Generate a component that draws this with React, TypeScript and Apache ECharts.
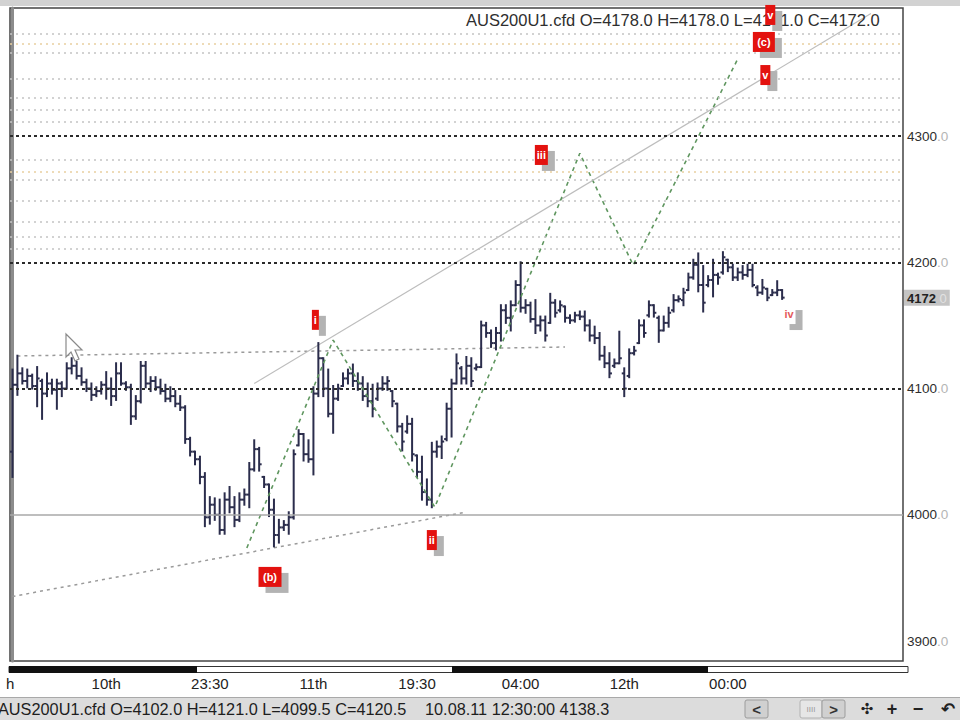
import React, { useEffect, useRef } from 'react';
import * as echarts from 'echarts';

// ---- OHLC bars (30-min) ----
const opens = [
  4050, 4103, 4112, 4106, 4110, 4102, 4106, 4096, 4104, 4099,
  4104, 4100, 4116, 4118, 4110, 4105, 4100, 4095, 4098, 4103,
  4100, 4094, 4112, 4104, 4101, 4078, 4090, 4118, 4104, 4106,
  4101, 4098, 4092, 4094, 4088, 4085, 4060, 4050, 4044, 4030,
  3998, 4008, 4000, 3988, 4012, 4006, 3996, 4012, 4016, 4036,
  4052, 4030, 4024, 4004, 3984, 3990, 3992, 3998, 4055, 4064,
  4048, 4044, 4096, 4124, 4100, 4080, 4092, 4102, 4108, 4112,
  4106, 4104, 4094, 4090, 4092, 4100, 4104, 4098, 4088, 4070,
  4066, 4072, 4047, 4034, 4018, 4012, 4050, 4054, 4060, 4084,
  4104, 4116, 4108, 4118, 4116, 4117, 4150, 4144, 4136, 4144,
  4162, 4156, 4166, 4182, 4164, 4166, 4155, 4150, 4154, 4152,
  4168, 4162, 4165, 4156, 4154, 4158, 4157, 4150, 4142, 4140,
  4126, 4120, 4118, 4120, 4112, 4110, 4128, 4136, 4150, 4158,
  4166, 4156, 4146, 4152, 4162, 4170, 4170, 4178, 4188, 4198,
  4182, 4182, 4186, 4190, 4192, 4202, 4196, 4188, 4192, 4190,
  4194, 4180, 4176, 4179, 4174, 4176, 4178,
];
const highs = [
  4115, 4126, 4116, 4115, 4111, 4117, 4107, 4112, 4107, 4107,
  4105, 4120, 4124, 4121, 4116, 4107, 4104, 4101, 4105, 4113,
  4108, 4120, 4120, 4105, 4103, 4094, 4121, 4121, 4109, 4109,
  4107, 4103, 4101, 4098, 4094, 4086, 4061, 4050, 4046, 4033,
  4014, 4013, 4012, 4017, 4022, 4014, 4017, 4020, 4041, 4059,
  4053, 4030, 4024, 4012, 3996, 3995, 4002, 4051, 4067, 4064,
  4059, 4101, 4136, 4124, 4115, 4102, 4103, 4112, 4115, 4119,
  4112, 4109, 4104, 4103, 4104, 4109, 4109, 4098, 4088, 4072,
  4078, 4076, 4047, 4046, 4028, 4057, 4058, 4062, 4088, 4107,
  4127, 4117, 4125, 4124, 4119, 4153, 4152, 4146, 4148, 4166,
  4166, 4169, 4185, 4200, 4170, 4168, 4170, 4157, 4157, 4175,
  4170, 4169, 4165, 4158, 4160, 4161, 4161, 4154, 4149, 4144,
  4133, 4128, 4123, 4145, 4116, 4131, 4133, 4154, 4154, 4169,
  4166, 4157, 4157, 4164, 4174, 4173, 4179, 4191, 4202, 4207,
  4197, 4189, 4202, 4191, 4208, 4202, 4198, 4195, 4197, 4198,
  4198, 4181, 4186, 4179, 4178, 4185, 4178,
];
const lows = [
  4030, 4095, 4104, 4101, 4100, 4086, 4076, 4094, 4096, 4084,
  4094, 4100, 4112, 4108, 4103, 4098, 4091, 4094, 4096, 4092,
  4087, 4091, 4103, 4099, 4072, 4076, 4089, 4101, 4098, 4099,
  4096, 4090, 4090, 4086, 4083, 4057, 4047, 4040, 4025, 3991,
  3993, 3996, 3985, 3985, 4002, 3991, 3995, 4008, 4006, 4035,
  4035, 4022, 3999, 3975, 3978, 3988, 3985, 3997, 4055, 4043,
  4042, 4032, 4094, 4094, 4078, 4065, 4091, 4102, 4104, 4102,
  4099, 4091, 4086, 4078, 4091, 4099, 4099, 4086, 4066, 4051,
  4065, 4043, 4030, 4012, 4008, 4006, 4046, 4045, 4059, 4062,
  4104, 4104, 4104, 4102, 4115, 4117, 4141, 4133, 4131, 4138,
  4152, 4146, 4166, 4161, 4160, 4153, 4144, 4146, 4138, 4152,
  4157, 4161, 4153, 4152, 4153, 4155, 4146, 4138, 4136, 4123,
  4117, 4109, 4117, 4120, 4094, 4109, 4127, 4136, 4141, 4157,
  4157, 4137, 4146, 4149, 4161, 4169, 4166, 4178, 4187, 4177,
  4161, 4181, 4173, 4183, 4191, 4193, 4186, 4186, 4187, 4189,
  4181, 4174, 4175, 4170, 4174, 4174, 4171,
];
const closes = [
  4103, 4112, 4106, 4110, 4102, 4108, 4096, 4104, 4099, 4104,
  4100, 4116, 4118, 4110, 4105, 4100, 4095, 4098, 4103, 4100,
  4094, 4112, 4104, 4101, 4078, 4090, 4118, 4104, 4106, 4101,
  4098, 4092, 4094, 4088, 4085, 4060, 4050, 4044, 4030, 3998,
  4008, 4000, 3988, 4012, 4006, 3996, 4012, 4016, 4036, 4052,
  4040, 4024, 4004, 3984, 3990, 3992, 3998, 4048, 4064, 4048,
  4044, 4096, 4124, 4100, 4080, 4092, 4100, 4108, 4112, 4106,
  4104, 4094, 4090, 4084, 4100, 4104, 4106, 4090, 4070, 4058,
  4072, 4048, 4034, 4018, 4012, 4050, 4054, 4058, 4084, 4104,
  4120, 4108, 4118, 4106, 4117, 4150, 4144, 4136, 4144, 4162,
  4156, 4166, 4182, 4164, 4166, 4155, 4150, 4154, 4142, 4168,
  4160, 4166, 4156, 4154, 4158, 4157, 4150, 4142, 4140, 4126,
  4120, 4112, 4120, 4124, 4100, 4128, 4130, 4150, 4144, 4166,
  4160, 4146, 4152, 4160, 4170, 4171, 4176, 4188, 4198, 4182,
  4168, 4186, 4190, 4188, 4204, 4196, 4188, 4192, 4190, 4194,
  4182, 4176, 4180, 4172, 4176, 4178, 4172,
];

// ---- axes ----
const slotCount = 181;
const timeLabelIdx = [19, 40, 61, 82, 103, 124, 145];
const timeLabels = ['10th', '23:30', '11th', '19:30', '04:00', '12th', '00:00'];
const priceTicks = [3900, 4000, 4100, 4200, 4300];
const priceMin = 3884.2;
const priceMax = 4401.4;

// ---- horizontal levels ----
const blackLevels = [4100, 4200, 4300];
const solidLevels = [4000];
const fibLevels = [4381, 4366, 4345, 4330, 4320.5, 4311, 4281, 4265, 4249, 4232, 4220, 4211];
const orangeLevels = [4373, 4272];

// ---- drawn lines (bar index, price) ----
const waveX = [47.5, 65, 85.6, 115, 125.8, 146.9];
const waveY = [3973.7, 4138.4, 4006.1, 4286.3, 4197.8, 4360.2];
const channelX = [49, 174];
const channelY = [4104, 4397];
const lowerTrendX = [0, 92];
const lowerTrendY = [3935.3, 4002.2];
const midTrendX = [1, 112];
const midTrendY = [4125.8, 4132.9];

// ---- wave labels ----
const waveLabels = ['(b)', 'i', 'ii', 'iii', 'iv', 'v', '(c)', 'v'];
const waveLabelX = [52.2, 61.4, 85.0, 107.2, 157.4, 152.6, 152.3, 153.6];
const waveLabelY = [3950.8, 4154.4, 3980, 4285, 4159, 4348.3, 4374.5, 4395.9];

// ---- texts ----
const headerText = 'AUS200U1.cfd O=4178.0 H=4178.0 L=4171.0 C=4172.0';
const statusQuote = 'AUS200U1.cfd O=4102.0 H=4121.0 L=4099.5 C=4120.5';
const statusCursor = '10.08.11 12:30:00 4138.3';

const FONT = "'Liberation Sans', Arial, sans-serif";
const BAR_COLOR = '#2b2d4c';
const CHAR_W: Record<string, number> = { i: 3, v: 6, '(': 6, ')': 6, b: 7, c: 6 };

export default function App() {
  const ref = useRef<HTMLDivElement>(null);
  useEffect(() => {
    const chart = echarts.init(ref.current!, null, { renderer: 'svg' });
    const ohlc = opens.map((o, i) => [i, o, highs[i], lows[i], closes[i]]);
    const pair = (xs: number[], ys: number[]) => xs.map((x, i) => [x, ys[i]]);
    const lvl = (vals: number[], style: any) => vals.map((v) => ({ yAxis: v, lineStyle: style }));
    const last = closes[closes.length - 1];

    const option: any = {
      animation: false,
      backgroundColor: '#ffffff',
      title: {
        text: headerText,
        left: 466,
        top: 11,
        padding: 0,
        textStyle: { fontSize: 16.5, fontWeight: 'normal', color: '#2e2e2e', fontFamily: FONT },
      },
      grid: {
        left: 10, right: 57, top: 8, bottom: 59,
        show: true, borderColor: '#444', borderWidth: 1.5, backgroundColor: '#fff',
        containLabel: false, outerBoundsMode: 'none',
      },
      xAxis: {
        type: 'value',
        min: -0.5,
        max: slotCount - 0.5,
        axisLine: { show: false },
        axisTick: { show: false },
        splitLine: { show: false },
        axisLabel: {
          customValues: timeLabelIdx,
          formatter: (v: number) => {
            const k = timeLabelIdx.indexOf(Math.round(v));
            return k >= 0 ? timeLabels[k] : '';
          },
          margin: 15,
          fontSize: 15,
          color: '#222',
          fontFamily: FONT,
        },
      },
      yAxis: {
        type: 'value',
        position: 'right',
        min: priceMin,
        max: priceMax,
        axisLine: { show: true, lineStyle: { color: '#8c8c8c', width: 3 } },
        axisTick: { show: false },
        splitLine: { show: false },
        axisLabel: {
          customValues: priceTicks,
          margin: 4,
          formatter: (v: number) => `{a|${v}}{b|.0}`,
          rich: {
            a: { fontSize: 13.5, color: '#2e2e2e', fontFamily: FONT },
            b: { fontSize: 13.5, color: '#b5b5b5', fontFamily: FONT },
          },
        },
      },
      series: [
        {
          type: 'line',
          name: 'lowerTrend',
          data: pair(lowerTrendX, lowerTrendY),
          symbol: 'none',
          silent: true,
          z: 1,
          lineStyle: { color: '#9a9a9a', width: 1.5, type: [3, 4] },
          markLine: {
            silent: true,
            symbol: ['none', 'none'],
            label: { show: false },
            data: [
              ...lvl(fibLevels, { color: '#c4c4c4', width: 1.5, type: [2, 4] }),
              ...lvl(orangeLevels, { color: '#e9cfa0', width: 1.5, type: [2, 4] }),
              ...lvl(blackLevels, { color: '#2a2a2a', width: 2, type: [3, 3] }),
              ...lvl(solidLevels, { color: '#a8a8a8', width: 1.5, type: 'solid' }),
              {
                yAxis: last,
                lineStyle: { color: 'rgba(0,0,0,0)', width: 0 },
                label: {
                  show: true,
                  position: 'end',
                  distance: 1,
                  backgroundColor: '#c4c4c4',
                  padding: [2, 3, 1, 3],
                  formatter: (p: any) => `{a|${Math.round(p.value)}}{b| 0}`,
                  rich: {
                    a: { fontSize: 13, fontWeight: 'bold', color: '#222', fontFamily: FONT },
                    b: { fontSize: 13, color: '#e2e2e2', fontFamily: FONT },
                  },
                },
              },
            ],
          },
        },
        {
          type: 'line',
          name: 'midTrend',
          data: pair(midTrendX, midTrendY),
          symbol: 'none',
          silent: true,
          z: 1,
          lineStyle: { color: '#9a9a9a', width: 1.5, type: [3, 4] },
        },
        {
          type: 'line',
          name: 'channel',
          data: pair(channelX, channelY),
          symbol: 'none',
          silent: true,
          z: 1,
          lineStyle: { color: '#bdbdbd', width: 1.2, type: 'solid' },
        },
        {
          type: 'custom',
          name: 'AUS200U1.cfd',
          data: ohlc,
          encode: { x: 0, y: [1, 2, 3, 4] },
          clip: true,
          z: 3,
          renderItem: (params: any, api: any) => {
            const x = api.value(0);
            const pH = api.coord([x, api.value(2)]);
            const pL = api.coord([x, api.value(3)]);
            const pO = api.coord([x, api.value(1)]);
            const pC = api.coord([x, api.value(4)]);
            const style = { stroke: BAR_COLOR, lineWidth: 2 };
            return {
              type: 'group',
              children: [
                { type: 'line', shape: { x1: pH[0], y1: pH[1] - 1, x2: pL[0], y2: pL[1] + 1 }, style },
                { type: 'line', shape: { x1: pO[0] - 2.5, y1: pO[1], x2: pO[0], y2: pO[1] }, style },
                { type: 'line', shape: { x1: pC[0], y1: pC[1], x2: pC[0] + 2.5, y2: pC[1] }, style },
              ],
            };
          },
        },
        {
          type: 'line',
          name: 'wave',
          data: pair(waveX, waveY),
          symbol: 'none',
          silent: true,
          z: 4,
          lineStyle: { color: '#5f965f', width: 1.6, type: [4, 4] },
        },
        {
          type: 'custom',
          name: 'labels',
          data: pair(waveLabelX, waveLabelY),
          clip: false,
          silent: true,
          z: 10,
          renderItem: (params: any, api: any) => {
            const p = api.coord([api.value(0), api.value(1)]);
            const t = waveLabels[params.dataIndex];
            const boxed = t !== 'iv';
            let tw = 0;
            for (const ch of t) tw += CHAR_W[ch] ?? 6;
            const w = Math.max(7, tw + 4);
            const h = 20;
            const x0 = p[0] - w / 2;
            const y0 = p[1] - h / 2;
            return {
              type: 'group',
              children: [
                { type: 'rect', shape: { x: x0 + 7, y: y0 + 6, width: w, height: h }, style: { fill: '#b3b3b3' } },
                { type: 'rect', shape: { x: x0, y: y0, width: w, height: h }, style: { fill: boxed ? '#e3120f' : '#ffffff' } },
                {
                  type: 'text',
                  style: {
                    text: t, x: p[0], y: p[1], align: 'center', verticalAlign: 'middle',
                    fill: boxed ? '#ffffff' : '#e45a5a', fontSize: 11, fontWeight: 'bold', fontFamily: FONT,
                  },
                },
              ],
            };
          },
        },
      ],
      graphic: [
        { type: 'rect', shape: { x: 0, y: 0, width: 960, height: 6 }, style: { fill: '#d2d2d2' }, silent: true },
        // session bar
        { type: 'rect', shape: { x: 9, y: 666.5, width: 899, height: 6 }, style: { fill: '#fff', stroke: '#333', lineWidth: 1 }, silent: true },
        { type: 'rect', shape: { x: 9, y: 666, width: 188, height: 7 }, style: { fill: '#111' }, silent: true },
        { type: 'rect', shape: { x: 452, y: 666, width: 256, height: 7 }, style: { fill: '#111' }, silent: true },
        { type: 'text', x: 6, y: 683, style: { text: 'h', fontSize: 15, fill: '#222', fontFamily: FONT, verticalAlign: 'middle' }, silent: true },
        // mouse cursor
        {
          type: 'polygon',
          shape: { points: [[66, 334], [66, 357], [71, 352], [75, 361], [79, 359], [75, 350], [82, 350]] },
          style: { fill: '#ffffff', stroke: '#8a8a8a', lineWidth: 1.2 },
          z: 20, silent: true,
        },
        // status bar
        { type: 'rect', shape: { x: 0, y: 697, width: 960, height: 23 }, style: { fill: '#dcdcdc' }, silent: true },
        { type: 'line', shape: { x1: 0, y1: 697.5, x2: 960, y2: 697.5 }, style: { stroke: '#a9a9a9', lineWidth: 1 }, silent: true },
        { type: 'text', x: -2, y: 709, style: { text: statusQuote, fontSize: 16.3, fill: '#1e1e1e', fontFamily: FONT, verticalAlign: 'middle' }, silent: true },
        { type: 'text', x: 425, y: 709, style: { text: statusCursor, fontSize: 16.3, fill: '#1e1e1e', fontFamily: FONT, verticalAlign: 'middle' }, silent: true },
        { type: 'rect', shape: { x: 745, y: 700, width: 23, height: 18, r: 2 }, style: { fill: '#d0d0d0', stroke: '#9c9c9c' }, silent: true },
        { type: 'text', x: 756.5, y: 709, style: { text: '<', fontSize: 15, fontWeight: 'bold', fill: '#333', fontFamily: FONT, align: 'center', verticalAlign: 'middle' }, silent: true },
        { type: 'rect', shape: { x: 800, y: 700, width: 22, height: 18, r: 2 }, style: { fill: '#e6e6e6', stroke: '#b2b2b2' }, silent: true },
        { type: 'text', x: 811, y: 709, style: { text: 'IIII', fontSize: 8, fill: '#9a9a9a', fontFamily: FONT, align: 'center', verticalAlign: 'middle' }, silent: true },
        { type: 'rect', shape: { x: 822, y: 700, width: 23, height: 18, r: 2 }, style: { fill: '#d0d0d0', stroke: '#9c9c9c' }, silent: true },
        { type: 'text', x: 833.5, y: 709, style: { text: '>', fontSize: 15, fontWeight: 'bold', fill: '#333', fontFamily: FONT, align: 'center', verticalAlign: 'middle' }, silent: true },
        { type: 'text', x: 867, y: 709, style: { text: '✣', fontSize: 15, fill: '#222', fontFamily: "'DejaVu Sans', sans-serif", align: 'center', verticalAlign: 'middle' }, silent: true },
        { type: 'text', x: 892, y: 709, style: { text: '+', fontSize: 18, fontWeight: 'bold', fill: '#222', fontFamily: FONT, align: 'center', verticalAlign: 'middle' }, silent: true },
        { type: 'text', x: 918, y: 709, style: { text: '−', fontSize: 18, fontWeight: 'bold', fill: '#222', fontFamily: FONT, align: 'center', verticalAlign: 'middle' }, silent: true },
        { type: 'text', x: 948, y: 709, style: { text: '↶', fontSize: 17, fontWeight: 'bold', fill: '#222', fontFamily: "'DejaVu Sans', sans-serif", align: 'center', verticalAlign: 'middle' }, silent: true },
      ],
    };
    chart.setOption(option);
    return () => chart.dispose();
  }, []);
  return (
    <div
      ref={ref}
      style={{ position: 'fixed', left: 0, top: 0, width: 960, height: 720, background: '#fff' }}
    />
  );
}
